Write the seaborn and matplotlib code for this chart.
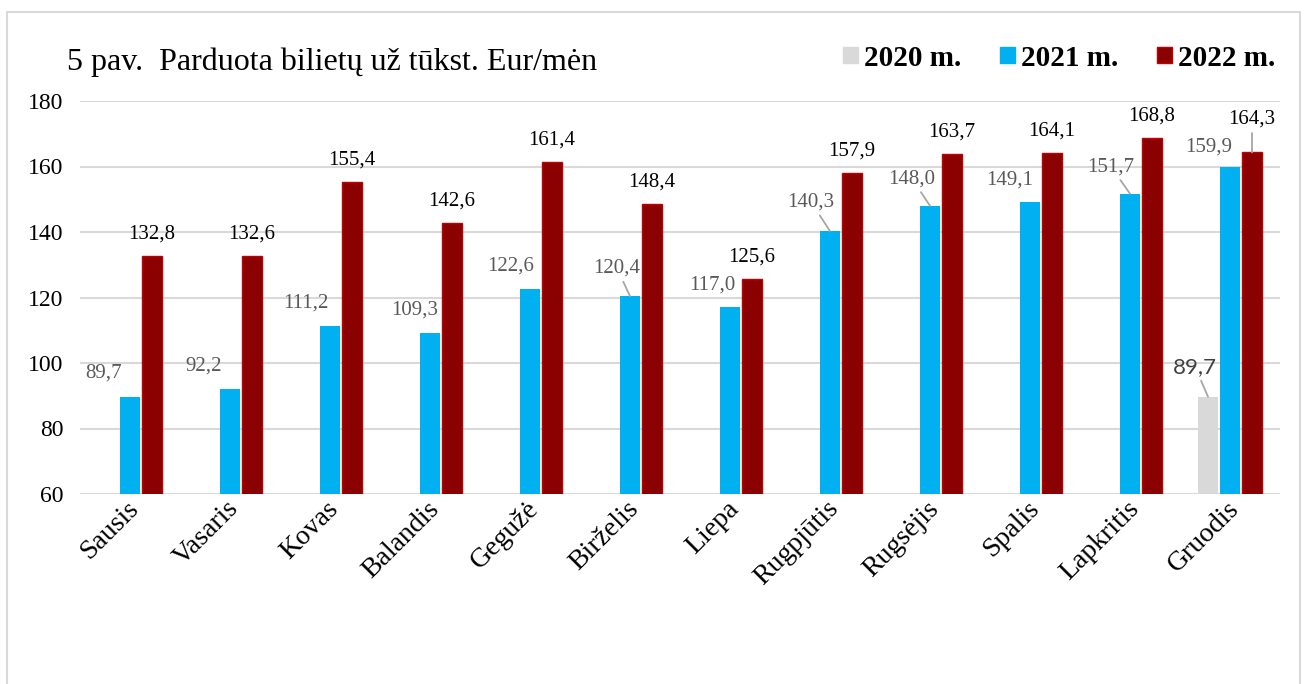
import matplotlib
matplotlib.use("Agg")
import matplotlib.pyplot as plt
from matplotlib.patches import Patch, Rectangle
from matplotlib.transforms import ScaledTranslation
import seaborn as sns
import pandas as pd
import numpy as np

# ---------------- data ----------------
months = ["Sausis", "Vasaris", "Kovas", "Balandis", "Gegužė", "Birželis",
          "Liepa", "Rugpjūtis", "Rugsėjis", "Spalis", "Lapkritis", "Gruodis"]
series_names = ["2020 m.", "2021 m.", "2022 m."]
v2020 = [np.nan] * 11 + [89.7]
v2021 = [89.7, 92.2, 111.2, 109.3, 122.6, 120.4, 117.0, 140.3, 148.0, 149.1, 151.7, 159.9]
v2022 = [132.8, 132.6, 155.4, 142.6, 161.4, 148.4, 125.6, 157.9, 163.7, 164.1, 168.8, 164.3]
yticks = [60, 80, 100, 120, 140, 160, 180]
title = "5 pav.  Parduota bilietų už tūkst. Eur/mėn"

# ---------------- styles ----------------
colors = {"2020 m.": "#D9D9D9", "2021 m.": "#00B0F0", "2022 m.": "#8B0000"}
edge_2022 = "#C00000"
# label offsets (pixels, from bar top centre to label centre) and leader flags
off_2021 = [(-26, -24), (-26, -22), (-24, -23), (-15, -22), (-19, -23), (-13, -28),
            (-18, -22), (-19, -29), (-18, -27), (-20, -22), (-19, -27), (-21, -20)]
lead_2021 = [False, False, False, False, False, True, False, True, True, False, True, False]
off_2022 = [(0, -22)] * 11 + [(0, -33)]
lead_2022 = [False] * 11 + [True]
off_2020 = {11: (-13, -30)}

frames = []
for name, vals in zip(series_names, [v2020, v2021, v2022]):
    frames.append(pd.DataFrame({"month": months, "series": name, "value": vals}))
df = pd.concat(frames, ignore_index=True)

serif = ["Liberation Serif", "DejaVu Serif"]
plt.rcParams["font.family"] = serif

fig = plt.figure(figsize=(13.1, 6.84), dpi=100)
ax = fig.add_axes([80 / 1310, 1 - 494 / 684, 1200 / 1310, 393 / 684])

sns.barplot(data=df, x="month", y="value", hue="series", hue_order=series_names,
            order=months, palette=colors, width=0.66, gap=0.1, legend=False,
            errorbar=None, ax=ax, saturation=1, linewidth=0)

ax.set_ylim(60, 180)
ax.set_yticks(yticks)
ax.set_xlim(-0.5, len(months) - 0.5)
ax.set_xlabel("")
ax.set_ylabel("")
ax.grid(axis="y", color="#D9D9D9", linewidth=1.5)
ax.set_axisbelow(True)
for s in ax.spines.values():
    s.set_visible(False)
ax.tick_params(axis="both", length=0)
ax.tick_params(axis="y", labelsize=17, pad=12)
ax.set_xticks(range(len(months)))
ax.set_xticklabels(months, rotation=45, ha="right", va="center",
                   rotation_mode="anchor", fontsize=20)
ax.tick_params(axis="x", pad=8)
shift = ScaledTranslation(5 / 100, 0, fig.dpi_scale_trans)
for lbl in ax.get_xticklabels():
    lbl.set_transform(lbl.get_transform() + shift)

def fmt(v):
    return f"{v:.1f}".replace(".", ",")

# annotate from containers
for cont, name in zip(ax.containers, series_names):
    for bar in cont:
        h = bar.get_height()
        if not np.isfinite(h) or h == 0:
            continue
        xc = bar.get_x() + bar.get_width() / 2
        idx = int(round(xc))
        top = bar.get_y() + h
        if name == "2022 m.":
            bar.set_edgecolor(edge_2022)
            bar.set_linewidth(1.0)
            dx, dy = off_2022[idx]
            lead = lead_2022[idx]
            col, fam, fs = "#000000", serif, 15
        elif name == "2021 m.":
            dx, dy = off_2021[idx]
            lead = lead_2021[idx]
            col, fam, fs = "#595959", serif, 15
        else:
            dx, dy = off_2020.get(idx, (0, -22))
            lead = True
            col, fam, fs = "#404040", ["Lato", "DejaVu Sans"], 16
        ap = dict(arrowstyle="-", color="#A6A6A6", lw=1.3, shrinkA=1, shrinkB=0) if lead else None
        ax.annotate(fmt(h), xy=(xc, top), xytext=(dx, -dy),
                    textcoords="offset pixels", ha="center", va="center",
                    fontsize=fs, color=col, family=fam, arrowprops=ap,
                    annotation_clip=False)

# title
fig.text(67 / 1310, 1 - 70 / 684, title, fontsize=23, color="#000000",
         ha="left", va="baseline", family=serif)

# legend
handles = [Patch(facecolor=colors[n], edgecolor=(edge_2022 if n == "2022 m." else colors[n]),
                 linewidth=1) for n in series_names]
fig.legend(handles, series_names, loc="center right",
           bbox_to_anchor=(1275 / 1310, 1 - 58 / 684), ncol=3, frameon=False,
           prop={"family": serif, "weight": "bold", "size": 21},
           handlelength=0.5, handleheight=0.5, handletextpad=0.2,
           columnspacing=1.35, borderaxespad=0, borderpad=0)

# outer frame
fig.patches.append(Rectangle((7 / 1310, -0.05), 1293 / 1310, 1.05 - 12 / 684,
                             transform=fig.transFigure, fill=False,
                             edgecolor="#D9D9D9", linewidth=1.5))

fig.savefig("out.png", dpi=100)
